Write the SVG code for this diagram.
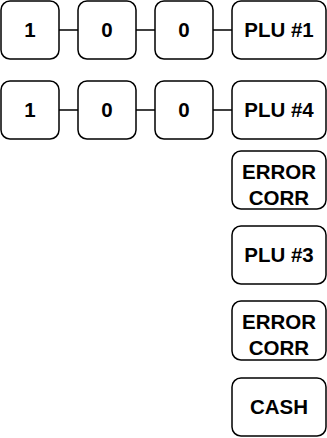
<svg xmlns="http://www.w3.org/2000/svg" width="327" height="438" viewBox="0 0 327 438">
<style>
.k{fill:#fff;stroke:#000;stroke-width:1.5}
.t{font-family:"Liberation Sans",Arial,sans-serif;font-weight:bold;font-size:20.5px;fill:#000;text-anchor:middle}
.c{stroke:#000;stroke-width:1.5;fill:none}
</style>
<rect width="327" height="438" fill="#fff"/>
<g id="connectors">
<line class="c" x1="59" y1="30" x2="78" y2="30"/>
<line class="c" x1="136" y1="30" x2="155" y2="30"/>
<line class="c" x1="213" y1="30" x2="232" y2="30"/>
<line class="c" x1="59" y1="110" x2="78" y2="110"/>
<line class="c" x1="136" y1="110" x2="155" y2="110"/>
<line class="c" x1="213" y1="110" x2="232" y2="110"/>
</g>
<g id="r1k1"><rect class="k" x="1" y="1" width="58" height="58" rx="9"/><text class="t" x="30" y="37">1</text></g>
<g id="r1k2"><rect class="k" x="78" y="1" width="58" height="58" rx="9"/><text class="t" x="107" y="37">0</text></g>
<g id="r1k3"><rect class="k" x="155" y="1" width="58" height="58" rx="9"/><text class="t" x="184" y="37">0</text></g>
<g id="r1k4"><rect class="k" x="232" y="1" width="94" height="58" rx="9"/><text class="t" x="279" y="37">PLU #1</text></g>
<g id="r2k1"><rect class="k" x="1" y="81" width="58" height="58" rx="9"/><text class="t" x="30" y="117">1</text></g>
<g id="r2k2"><rect class="k" x="78" y="81" width="58" height="58" rx="9"/><text class="t" x="107" y="117">0</text></g>
<g id="r2k3"><rect class="k" x="155" y="81" width="58" height="58" rx="9"/><text class="t" x="184" y="117">0</text></g>
<g id="r2k4"><rect class="k" x="232" y="81" width="94" height="58" rx="9"/><text class="t" x="279" y="117">PLU #4</text></g>
<g id="err1"><rect class="k" x="232" y="151" width="94" height="58" rx="9"/><text class="t" x="279" y="178.5">ERROR</text><text class="t" x="279" y="205">CORR</text></g>
<g id="plu3"><rect class="k" x="232" y="226" width="94" height="58" rx="9"/><text class="t" x="279" y="262">PLU #3</text></g>
<g id="err2"><rect class="k" x="232" y="301" width="94" height="59" rx="9"/><text class="t" x="279" y="328.5">ERROR</text><text class="t" x="279" y="355">CORR</text></g>
<g id="cash"><rect class="k" x="232" y="378" width="94" height="58" rx="9"/><text class="t" x="279" y="414">CASH</text></g>
</svg>
